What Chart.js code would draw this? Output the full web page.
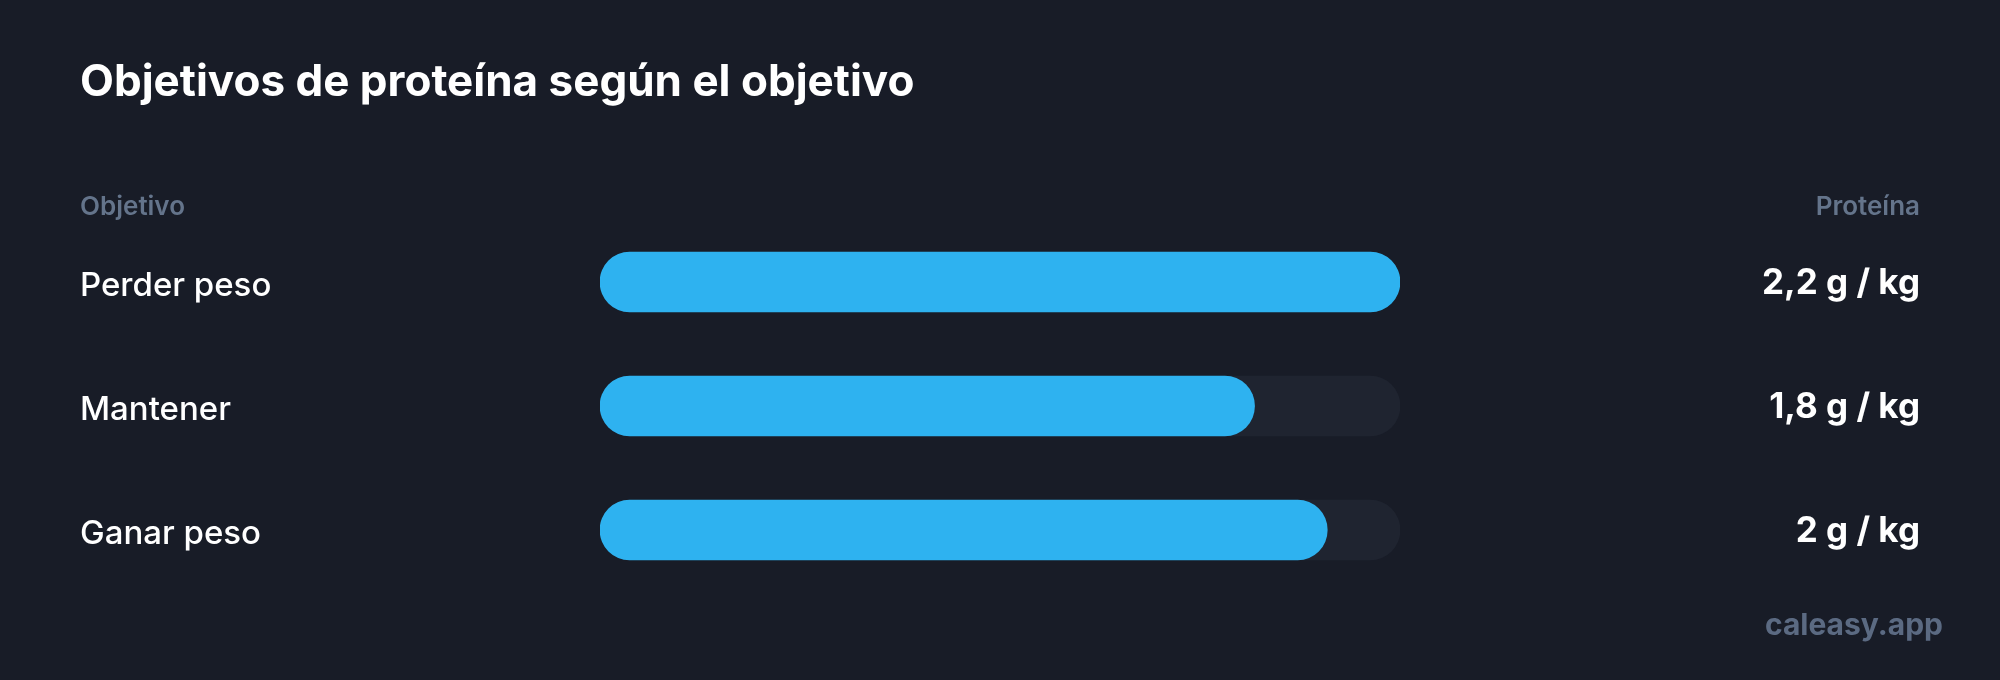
<!DOCTYPE html>
<html>
<head>
<meta charset="utf-8">
<script src="https://cdn.jsdelivr.net/npm/chart.js@4"></script>
<style>
  html, body { margin: 0; padding: 0; background: #181c27; }
  #wrap { width: 2000px; height: 680px; position: relative; }
</style>
</head>
<body>
<div id="wrap"><canvas id="myChart"></canvas></div>
<script>
let labels = ['Perder peso', 'Mantener', 'Ganar peso'];
let values = [2.2, 1.8, 2.0];
let valueLabels = ['2,2 g / kg', '1,8 g / kg', '2 g / kg'];
let maxValue = 2.2;

let title = 'Objetivos de proteína según el objetivo';
let leftHeader = 'Objetivo';
let rightHeader = 'Proteína';
let footer = 'caleasy.app';

// text drawn around the bars, placed from the chart's own scales
let textPlugin = {
	id: 'textPlugin',
	afterDraw(chart) {
		let ctx = chart.ctx;
		let y = chart.scales.y;
		ctx.save();
		ctx.textBaseline = 'alphabetic';

		ctx.fillStyle = '#ffffff';
		ctx.font = 'bold 44px Inter';
		ctx.textAlign = 'left';
		ctx.fillText(title, 80, 96);

		ctx.fillStyle = '#64748b';
		ctx.font = '600 26px Inter';
		ctx.fillText(leftHeader, 80, 215);
		ctx.textAlign = 'right';
		ctx.fillText(rightHeader, 1920, 215);

		labels.forEach((l, i) => {
			let py = y.getPixelForValue(i);
			ctx.fillStyle = '#ffffff';
			ctx.font = '500 33px Inter';
			ctx.textAlign = 'left';
			ctx.fillText(l, 80, py + 14);
			ctx.font = 'bold 35px Inter';
			ctx.textAlign = 'right';
			ctx.fillText(valueLabels[i], 1920, py + 12);
		});

		ctx.fillStyle = '#5b6a82';
		ctx.font = 'bold 30px Inter';
		ctx.textAlign = 'right';
		ctx.fillText(footer, 1943, 635);
		ctx.restore();
	}
};

let myChart = document.getElementById('myChart').getContext('2d');

let chart = new Chart(myChart, {
	type: 'bar',
	data: {
		labels: labels,
		datasets: [
		{
			data: values,
			backgroundColor: '#2eb2f0',
			borderRadius: 30,
			borderSkipped: false,
			barThickness: 60,
			grouped: false,
			order: 1
		},
		{
			data: labels.map(() => maxValue),
			backgroundColor: '#1f2430',
			borderRadius: 30,
			borderSkipped: false,
			barThickness: 60,
			grouped: false,
			order: 2
		}
		]
	},
	options: {
		indexAxis: 'y',
		responsive: true,
		maintainAspectRatio: false,
		animation: false,
		layout: {
			padding: { left: 600, right: 600, top: 220, bottom: 88 }
		},
		scales: {
			x: { min: 0, max: maxValue, display: false },
			y: { display: false }
		},
		plugins: {
			legend: { display: false },
			tooltip: { enabled: false }
		}
	},
	plugins: [textPlugin]
});
</script>
</body>
</html>
